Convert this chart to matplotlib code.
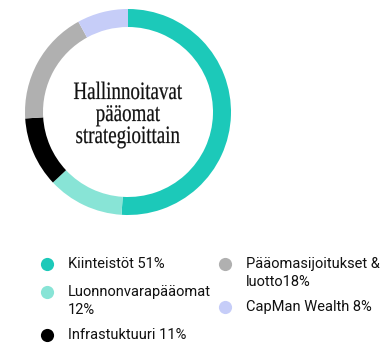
import matplotlib
matplotlib.use("Agg")
import matplotlib.pyplot as plt
from matplotlib.textpath import TextPath
from matplotlib.patches import PathPatch
from matplotlib.font_manager import FontProperties
from matplotlib.transforms import Affine2D

# Managed capital by strategy (percent)
categories = ["Kiinteistöt", "Luonnonvarapääomat", "Infrastuktuuri",
              "Pääomasijoitukset & luotto", "CapMan Wealth"]
shares = [51, 12, 11, 18, 8]
colors = ["#1cc9b9", "#88e4d6", "#000000", "#b0b0b0", "#c6cdf8"]
legend_labels = ["Kiinteistöt 51%", "Luonnonvarapääomat\n12%", "Infrastuktuuri 11%",
                 "Pääomasijoitukset &\nluotto18%", "CapMan Wealth 8%"]
title_lines = ["Hallinnoitavat", "pääomat", "strategioittain"]

W, H = 390, 350
fig = plt.figure(figsize=(W / 100, H / 100), dpi=100)
ax = fig.add_axes([0, 0, 1, 1])

cx, cy, r = 128, H - 112, 103
ax.pie(shares, colors=colors, startangle=90, counterclock=False,
       center=(cx, cy), radius=r, wedgeprops=dict(width=18, linewidth=0))
ax.set_xlim(0, W)
ax.set_ylim(0, H)
ax.set_aspect("equal")
ax.axis("off")

# Condensed serif heading inside the ring
serif = FontProperties(family="Liberation Serif")
baselines = [99, 121, 143]
for line, base in zip(title_lines, baselines):
    tp = TextPath((0, 0), line, size=25, prop=serif)
    ext = tp.get_extents()
    sx = 0.76
    width = ext.width * sx
    tr = Affine2D().scale(sx, 1).translate(cx - width / 2 - ext.x0 * sx, H - base)
    ax.add_patch(PathPatch(tr.transform_path(tp), facecolor="#111111",
                           edgecolor="#111111", linewidth=0.15))

# Legend laid out in two columns
positions = [(47, 264), (47, 292), (47, 335), (225, 264), (225, 307)]
for (px, py), c, lab in zip(positions, colors, legend_labels):
    ax.scatter([px], [H - py], s=90, color=c, linewidths=0)
    for i, part in enumerate(lab.split("\n")):
        ax.text(px + 21, H - py - i * 18.5, part, ha="left", va="center",
                fontsize=10.5, family="Roboto", color="#111111")

fig.savefig("out.png", dpi=100, facecolor="white")
